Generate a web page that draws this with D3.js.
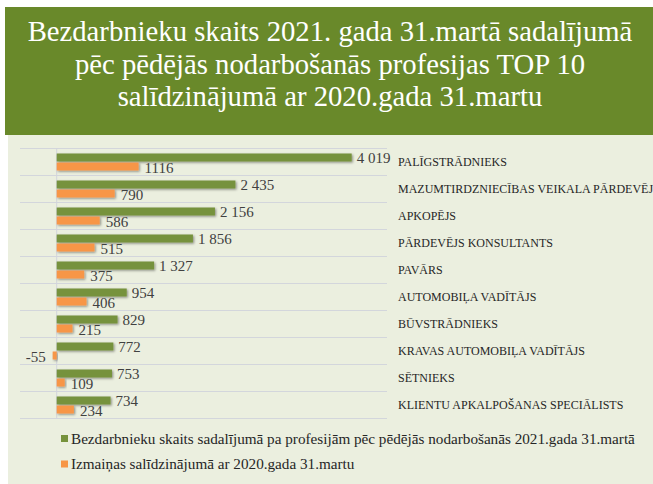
<!DOCTYPE html>
<html>
<head>
<meta charset="utf-8">
<script src="https://cdn.jsdelivr.net/npm/d3@7"></script>
<style>
  body { margin: 0; background: #fff; }
  svg { display: block; font-family: "Liberation Serif", "Times New Roman", serif; }
</style>
</head>
<body>
<svg id="chart" width="653" height="484"></svg>
<script>
// data
var professions = [
  "PALĪGSTRĀDNIEKS",
  "MAZUMTIRDZNIECĪBAS VEIKALA PĀRDEVĒJS",
  "APKOPĒJS",
  "PĀRDEVĒJS KONSULTANTS",
  "PAVĀRS",
  "AUTOMOBIĻA VADĪTĀJS",
  "BŪVSTRĀDNIEKS",
  "KRAVAS AUTOMOBIĻA VADĪTĀJS",
  "SĒTNIEKS",
  "KLIENTU APKALPOŠANAS SPECIĀLISTS"
];
var unemployed2021 = [4019, 2435, 2156, 1856, 1327, 954, 829, 772, 753, 734];
var changeVs2020 = [1116, 790, 586, 515, 375, 406, 215, -55, 109, 234];
var seriesNames = [
  "Bezdarbnieku skaits sadalījumā pa profesijām pēc pēdējās nodarbošanās 2021.gada 31.martā",
  "Izmaiņas salīdzinājumā ar 2020.gada 31.martu"
];
var titleLines = [
  "Bezdarbnieku skaits 2021. gada 31.martā sadalījumā",
  "pēc pēdējās nodarbošanās profesijas TOP 10",
  "salīdzinājumā ar 2020.gada 31.martu"
];

var green = "#76923c", orange = "#f79646";

var svg = d3.select("#chart");

// drop shadow like the office chart
var defs = svg.append("defs");
defs.append("filter").attr("id", "shadow")
    .attr("x", "-10%").attr("y", "-40%").attr("width", "130%").attr("height", "200%")
  .append("feDropShadow")
    .attr("dx", 1.2).attr("dy", 1.2).attr("stdDeviation", 0.9)
    .attr("flood-color", "#000").attr("flood-opacity", 0.4);

// backgrounds
svg.append("rect").attr("x", 8).attr("y", 135).attr("width", 645).attr("height", 349).attr("fill", "#ebefdf");
svg.append("rect").attr("x", 5).attr("y", 7).attr("width", 648).attr("height", 128).attr("fill", "#69892a");

svg.append("g").selectAll("text")
  .data(titleLines)
  .enter().append("text")
    .attr("x", 330)
    .attr("y", function(d, i) { return 41 + i * 32.5; })
    .attr("text-anchor", "middle")
    .attr("fill", "#fff")
    .attr("font-size", 28.7)
    .text(function(d) { return d; });

// scales
var x = d3.scaleLinear().domain([-500, 4500]).range([20, 387]);
var y = d3.scaleBand().domain(professions).range([148.5, 418.5]);
var sub = d3.scaleBand().domain([0, 1]).range([0, y.bandwidth()])
    .paddingInner(1 / 9).paddingOuter(5 / 9);

var data = professions.map(function(p, i) {
  return { name: p, total: unemployed2021[i], change: changeVs2020[i] };
});

// gridlines between categories
var bounds = professions.map(function(p) { return y(p); }).concat([y.range()[1]]);
svg.append("g").selectAll("line")
  .data(bounds)
  .enter().append("line")
    .attr("x1", 20).attr("x2", 387)
    .attr("y1", function(d) { return d; })
    .attr("y2", function(d) { return d; })
    .attr("stroke", "#d3d6dc").attr("stroke-width", 1);

svg.append("line")
    .attr("x1", x(0)).attr("x2", x(0))
    .attr("y1", y.range()[0]).attr("y2", y.range()[1])
    .attr("stroke", "#d3d6dc").attr("stroke-width", 1);

var lv = d3.formatLocale({ decimal: ",", thousands: "\u00a0", grouping: [3], currency: ["", ""], minus: "-" });
var fmtTotal = lv.format(",d");
var fmtChange = lv.format("d");

var rows = svg.append("g").selectAll("g")
  .data(data)
  .enter().append("g")
    .attr("transform", function(d) { return "translate(0," + y(d.name) + ")"; });

rows.append("rect")
    .attr("x", x(0))
    .attr("y", sub(0))
    .attr("width", function(d) { return x(d.total) - x(0); })
    .attr("height", sub.bandwidth())
    .attr("fill", green)
    .attr("filter", "url(#shadow)");

rows.append("rect")
    .attr("x", function(d) { return x(Math.min(0, d.change)); })
    .attr("y", sub(1))
    .attr("width", function(d) { return Math.abs(x(d.change) - x(0)); })
    .attr("height", sub.bandwidth())
    .attr("fill", orange)
    .attr("filter", "url(#shadow)");

// value labels
rows.append("text")
    .attr("x", function(d) { return x(d.total) + 5; })
    .attr("y", sub(0) + sub.bandwidth() / 2)
    .attr("dy", "0.35em")
    .attr("font-size", 15)
    .attr("fill", "#404040")
    .text(function(d) { return fmtTotal(d.total); });

rows.append("text")
    .attr("x", function(d) { return d.change < 0 ? x(d.change) - 7 : x(d.change) + 6; })
    .attr("y", sub(1) + sub.bandwidth() / 2 + 1)
    .attr("dy", "0.35em")
    .attr("text-anchor", function(d) { return d.change < 0 ? "end" : "start"; })
    .attr("font-size", 15)
    .attr("fill", "#404040")
    .text(function(d) { return fmtChange(d.change); });

// category labels on the right (the long one runs off the edge, as in the original)
var catAxis = svg.append("g")
    .attr("transform", "translate(398,0)")
    .call(d3.axisRight(y).tickSize(0).tickPadding(0));
catAxis.select(".domain").remove();
catAxis.selectAll("text")
    .attr("font-family", "Liberation Serif, Times New Roman, serif")
    .attr("font-size", 12)
    .attr("fill", "#262626");

// legend
var legend = svg.append("g").selectAll("g")
  .data(seriesNames)
  .enter().append("g")
    .attr("transform", function(d, i) { return "translate(61," + (435 + i * 25.5) + ")"; });

legend.append("rect")
    .attr("width", 7).attr("height", 7)
    .attr("fill", function(d, i) { return i === 0 ? green : orange; });

legend.append("text")
    .attr("x", 10)
    .attr("y", 3.5)
    .attr("dy", "0.35em")
    .attr("font-size", 15.2)
    .attr("fill", "#262626")
    .text(function(d) { return d; });
</script>
</body>
</html>
